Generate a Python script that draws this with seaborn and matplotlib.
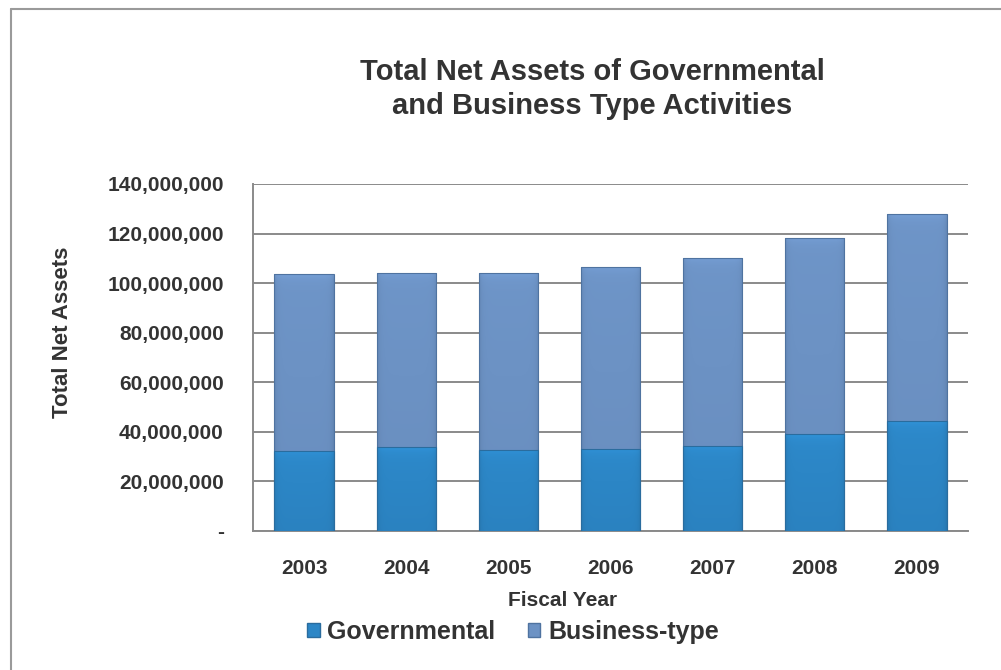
import matplotlib
matplotlib.use("Agg")
import matplotlib.pyplot as plt
from matplotlib.lines import Line2D
from matplotlib.patches import Patch
from matplotlib.colors import to_rgb
from matplotlib.ticker import FuncFormatter
import seaborn as sns
import pandas as pd
import numpy as np

# Net assets by fiscal year (dollars)
years = ["2003", "2004", "2005", "2006", "2007", "2008", "2009"]
governmental = [32_400_000, 33_700_000, 32_700_000, 33_100_000, 34_400_000, 39_100_000, 44_300_000]
business_type = [71_100_000, 70_500_000, 71_200_000, 73_500_000, 75_800_000, 79_200_000, 83_500_000]
y_ticks = [0, 20_000_000, 40_000_000, 60_000_000, 80_000_000, 100_000_000, 120_000_000, 140_000_000]

GOV_COLOR = "#2C86C6"
BIZ_COLOR = "#6C92C4"
GOV_EDGE = "#2a6c9e"
BIZ_EDGE = "#4f73a0"
TEXT = "#333333"
GRID = "#8a8a8a"

sns.set_theme(style="white")
plt.rcParams["font.family"] = ["Liberation Sans", "DejaVu Sans"]
plt.rcParams["font.weight"] = "bold"

df = pd.DataFrame({"year": years, "gov": governmental, "biz": business_type})
df["total"] = df["gov"] + df["biz"]

fig = plt.figure(figsize=(10.01, 6.70), dpi=100)
W, H = 1001, 670
ax = fig.add_axes([253 / W, 1 - 531 / H, (968 - 253) / W, (531 - 184) / H])

# Stacked columns: full total in business colour, governmental drawn over the base
sns.barplot(data=df, x="year", y="total", color=BIZ_COLOR, width=0.58,
            saturation=1, edgecolor=BIZ_EDGE, linewidth=0.8, ax=ax, zorder=3)
n_biz = len(ax.patches)
sns.barplot(data=df, x="year", y="gov", color=GOV_COLOR, width=0.58,
            saturation=1, edgecolor=GOV_EDGE, linewidth=0.8, ax=ax, zorder=4)

ymax = 140_000_000
ax.set_ylim(0, ymax)
ax.set_xlim(-0.5, len(years) - 0.5)

# Soft bevelled shading for each column segment, clipped to the bar shape
px_per_unit = (531 - 184) / ymax
bar_px = 0.58 * (968 - 253) / len(years)
for i, p in enumerate(list(ax.patches)):
    base = np.array(to_rgb(BIZ_COLOR if i < n_biz else GOV_COLOR))
    x0, y0, w, h = p.get_x(), p.get_y(), p.get_width(), p.get_height()
    rows, cols = 300, 80
    hp = max(h * px_per_unit, 1.0)
    yy = (np.arange(rows) + 0.5) / rows * hp            # pixels from segment bottom
    xx = (np.arange(cols) + 0.5) / cols * bar_px        # pixels from left edge
    edge_px = np.minimum(xx, bar_px - xx)
    top_px = (hp - yy)
    side = 1 - 0.10 * np.exp(-edge_px / 2.5)
    cap = 1 + 0.08 * np.exp(-top_px / 5.0)
    shade = side[None, :] * cap[:, None] * (0.97 + 0.05 * (yy / hp))[:, None]
    img = np.clip(base[None, None, :] * shade[:, :, None], 0, 1)
    z = p.get_zorder()
    im = ax.imshow(img, extent=[x0, x0 + w, y0, y0 + h], origin="lower",
                   aspect="auto", interpolation="bilinear", zorder=z + 0.1)
    im.set_clip_path(p)
    p.set_facecolor("none")
    p.set_zorder(z + 0.2)

ax.set_ylim(0, ymax)
ax.set_xlim(-0.5, len(years) - 0.5)
ax.set_yticks(y_ticks)
ax.yaxis.set_major_formatter(FuncFormatter(lambda v, _: "-" if v == 0 else f"{int(v):,}"))
ax.grid(axis="y", color=GRID, linewidth=1.4, zorder=0)
ax.set_axisbelow(True)

for side_name in ("top", "right"):
    ax.spines[side_name].set_visible(False)
for side_name in ("left", "bottom"):
    ax.spines[side_name].set_color(GRID)
    ax.spines[side_name].set_linewidth(1.4)

ax.tick_params(axis="y", length=0, pad=21, labelsize=15, labelcolor=TEXT)
ax.tick_params(axis="x", length=0, pad=20, labelsize=15, labelcolor=TEXT)
for lbl in ax.get_xticklabels() + ax.get_yticklabels():
    lbl.set_fontweight("bold")

ax.set_xlabel("")
ax.set_ylabel("")

fig.text(592 / W, 1 - 89 / H, "Total Net Assets of Governmental\nand Business Type Activities",
         ha="center", va="center", fontsize=21, fontweight="bold", color=TEXT,
         linespacing=1.25)
fig.text(563 / W, 1 - 601 / H, "Fiscal Year", ha="center", va="center",
         fontsize=15, fontweight="bold", color=TEXT)
fig.text(62 / W, 1 - 332 / H, "Total Net Assets", ha="center", va="center",
         rotation=90, fontsize=16, fontweight="bold", color=TEXT)

handles = [Patch(facecolor=GOV_COLOR, edgecolor=GOV_EDGE, label="Governmental"),
           Patch(facecolor=BIZ_COLOR, edgecolor=BIZ_EDGE, label="Business-type")]
fig.legend(handles=handles, loc="center", bbox_to_anchor=(513 / W, 1 - 632 / H),
           ncol=2, frameon=False, prop={"size": 18, "weight": "bold"},
           handlelength=0.5, handleheight=0.5, handletextpad=0.3,
           columnspacing=1.3, labelcolor=TEXT)

# Outer frame around the chart area
fig.add_artist(Line2D([11 / W, 11 / W], [0, 1 - 9 / H], color="#9a9a9a", linewidth=1.5,
                      transform=fig.transFigure))
fig.add_artist(Line2D([11 / W, 1], [1 - 9 / H, 1 - 9 / H], color="#9a9a9a", linewidth=1.5,
                      transform=fig.transFigure))

fig.savefig("out.png", dpi=100, facecolor="white")
